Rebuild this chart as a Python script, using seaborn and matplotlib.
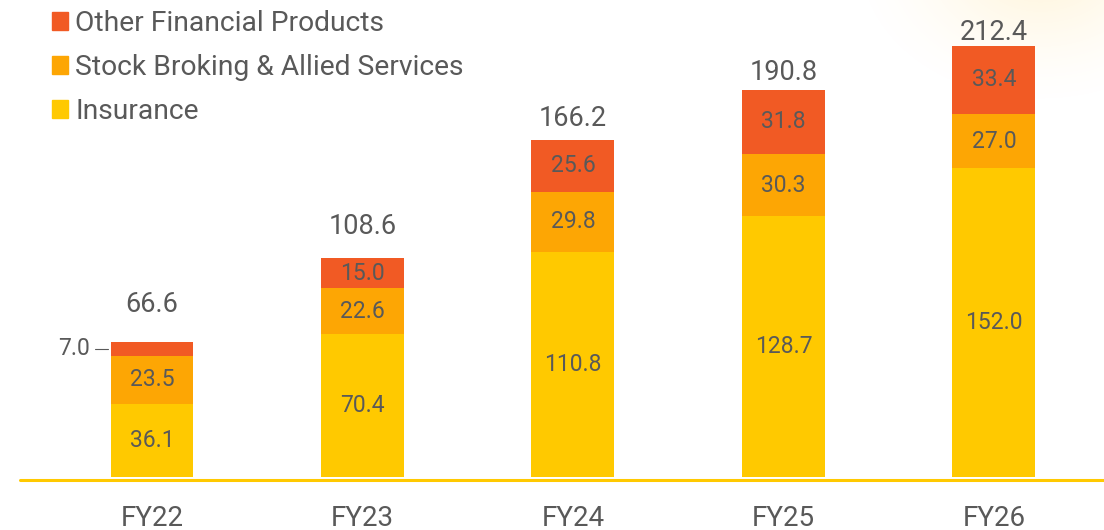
import numpy as np
import pandas as pd
import matplotlib
matplotlib.use("Agg")
import matplotlib.pyplot as plt
from matplotlib.patches import Patch
import seaborn as sns

sns.set_theme(style="white")
plt.rcParams['font.family'] = ['Roboto', 'DejaVu Sans']

# data
years = ["FY22", "FY23", "FY24", "FY25", "FY26"]
insurance = [36.1, 70.4, 110.8, 128.7, 152.0]
broking = [23.5, 22.6, 29.8, 30.3, 27.0]
other = [7.0, 15.0, 25.6, 31.8, 33.4]
totals = [66.6, 108.6, 166.2, 190.8, 212.4]

c_other = "#F15A24"
c_broking = "#FDA604"
c_ins = "#FFC900"
txt = "#595959"

df = pd.DataFrame({"year": years, "ins": insurance, "brk": broking, "oth": other})
df["lvl2"] = df["ins"] + df["brk"]
df["lvl3"] = df["lvl2"] + df["oth"]

fig = plt.figure(figsize=(11.04, 5.30), dpi=100)

# faint glow top right
bg = fig.add_axes([0, 0, 1, 1], zorder=-5)
gx, gy = np.meshgrid(np.arange(1104), np.arange(530))
r = np.sqrt((gx - 1040) ** 2 + ((gy + 40) * 1.3) ** 2)
a = np.clip(1 - r / 190, 0, 1) ** 1.5 * 0.3
img = np.zeros((530, 1104, 4))
img[..., 0] = 1.0
img[..., 1] = 0.85
img[..., 2] = 0.45
img[..., 3] = a
bg.imshow(img, aspect="auto", extent=(0, 1104, 530, 0))
bg.axis("off")

ax = fig.add_axes([0, 53 / 530, 1, 477 / 530])
ax.patch.set_alpha(0)

w = 0.394
sns.barplot(data=df, x="year", y="lvl3", color=c_other, width=w, saturation=1, linewidth=0, ax=ax)
sns.barplot(data=df, x="year", y="lvl2", color=c_broking, width=w, saturation=1, linewidth=0, ax=ax)
sns.barplot(data=df, x="year", y="ins", color=c_ins, width=w, saturation=1, linewidth=0, ax=ax)

ax.set_xlim(-0.722, 4.523)
ax.set_ylim(0, 235)
ax.set_xlabel("")
ax.set_ylabel("")
ax.set_yticks([])
for s in ax.spines.values():
    s.set_visible(False)
ax.tick_params(axis="x", length=0, pad=20, labelsize=20, labelcolor=txt)

# baseline
ax.axhline(-1.5, xmin=20 / 1104, xmax=1, color=c_ins, lw=2.2, clip_on=False)

fs_in = 16.5
for i in range(len(years)):
    ax.text(i, insurance[i] / 2, f"{insurance[i]:.1f}", ha="center", va="center",
            fontsize=fs_in, color=txt)
    ax.text(i, insurance[i] + broking[i] / 2, f"{broking[i]:.1f}", ha="center",
            va="center", fontsize=fs_in, color=txt)
    if i == 0:
        yc = insurance[i] + broking[i] + other[i] / 2
        ax.text(i - w / 2 - 0.1, yc, f"{other[i]:.1f}", ha="right", va="center",
                fontsize=fs_in, color=txt)
        ax.plot([i - w / 2 - 0.075, i - w / 2 - 0.01], [yc, yc], color=txt, lw=0.8)
    else:
        ax.text(i, insurance[i] + broking[i] + other[i] / 2, f"{other[i]:.1f}",
                ha="center", va="center", fontsize=fs_in, color=txt)
    # total labels sit on a slightly compressed scale in the original
    ax.text(i, 0.919 * totals[i] + 20.1, f"{totals[i]:.1f}", ha="center", va="baseline",
            fontsize=19.5, color=txt)

handles = [Patch(color=c_other), Patch(color=c_broking), Patch(color=c_ins)]
labels = ["Other Financial Products", "Stock Broking & Allied Services", "Insurance"]
leg = fig.legend(handles, labels, loc="upper left", bbox_to_anchor=(52 / 1104, 1 - 10 / 530),
                 frameon=False, fontsize=20.3, handlelength=0.58, handleheight=0.58,
                 handletextpad=0.25, labelspacing=0.6, borderpad=0, borderaxespad=0)
for t in leg.get_texts():
    t.set_color(txt)

fig.savefig("out.png", dpi=100)
